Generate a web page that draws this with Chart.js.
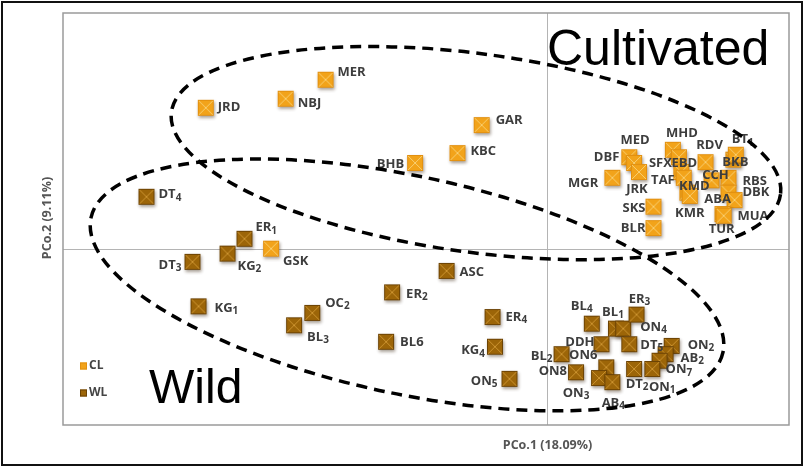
<!DOCTYPE html>
<html>
<head>
<meta charset="utf-8">
<script src="https://cdn.jsdelivr.net/npm/chart.js@4.4.1/dist/chart.umd.min.js"></script>
<style>
  html, body { margin: 0; padding: 0; background: #fff; }
  #wrap { width: 804px; height: 469px; position: relative; }
</style>
</head>
<body>
<div id="wrap"><canvas id="pcoChart" width="804" height="469"></canvas></div>
<script>
/* PCoA scatter: cultivated (CL) vs wild (WL) accessions
   PCo.1 = 18.09 %, PCo.2 = 9.11 %  (axis values) */

// Cultivated accessions
const CL_NAMES = ['JRD', 'NBJ', 'MER', 'GAR', 'KBC', 'BHB', 'GSK', 'MGR', 'DBF', 'MED', 'JRK', 'SKS', 'BLR',
  'MHD', 'SFX', 'EBD', 'TAF', 'KMD', 'KMR', 'RDV', 'CCH', 'BKB', 'BT_1', 'RBS', 'DBK', 'ABA', 'MUA', 'TUR'];
const CL_PCO1 = [-0.282, -0.216, -0.183, -0.054, -0.074, -0.109, -0.228, 0.054, 0.068, 0.072, 0.076, 0.088, 0.088,
  0.104, 0.109, 0.111, 0.113, 0.116, 0.118, 0.131, 0.136, 0.154, 0.156, 0.150, 0.150, 0.155, 0.145, 0.146];
const CL_PCO2 = [0.171, 0.182, 0.205, 0.150, 0.116, 0.104, 0.000, 0.086, 0.111, 0.104, 0.093, 0.051, 0.025,
  0.120, 0.111, 0.093, 0.086, 0.068, 0.064, 0.105, 0.083, 0.108, 0.114, 0.086, 0.068, 0.059, 0.042, 0.040];

// Wild accessions
const WL_NAMES = ['DT_4', 'ER_1', 'KG_2', 'DT_3', 'KG_1', 'OC_2', 'BL_3', 'ER_2', 'BL6', 'ASC', 'ER_4', 'KG_4', 'ON_5',
  'BL_4', 'BL_1', 'ON_4', 'ER_3', 'DDH', 'DT_5', 'ON_2', 'AB_2', 'ON_7', 'ON_1', 'DT_2', 'BL_2', 'ON6', 'ON8', 'ON_3', 'AB_4'];
const WL_PCO1 = [-0.331, -0.250, -0.264, -0.293, -0.288, -0.194, -0.209, -0.128, -0.133, -0.083, -0.045, -0.043, -0.031,
  0.037, 0.057, 0.063, 0.074, 0.045, 0.068, 0.103, 0.098, 0.093, 0.087, 0.072, 0.012, 0.049, 0.024, 0.043, 0.054];
const WL_PCO2 = [0.063, 0.012, -0.006, -0.016, -0.070, -0.078, -0.093, -0.053, -0.113, -0.027, -0.083, -0.119, -0.158,
  -0.091, -0.097, -0.097, -0.080, -0.116, -0.116, -0.118, -0.128, -0.136, -0.146, -0.146, -0.128, -0.144, -0.150, -0.157, -0.162];

const AXIS_X_TITLE = 'PCo.1 (18.09%)';
const AXIS_Y_TITLE = 'PCo.2 (9.11%)';
const GROUP_TITLES = ['Cultivated', 'Wild'];

// label placement: [dx, dy, align] in px from the marker centre
const LABEL_POS = {
  JRD: [12, 0, 'left'], NBJ: [12, 5, 'left'], MER: [12, -7, 'left'], GAR: [14, -5, 'left'], KBC: [13, -2, 'left'],
  BHB: [-11, 1, 'right'], GSK: [12, 13, 'left'], MGR: [-14, 5, 'right'], DBF: [-10, 0, 'right'], MED: [1, -23, 'center'],
  JRK: [-2, 17, 'center'], SKS: [-8, 2, 'right'], BLR: [-8, 0, 'right'], MHD: [9, -16, 'center'], SFX: [-7, 6, 'right'],
  EBD: [3, -9, 'center'], TAF: [-9, 2, 'right'], KMD: [7, -6, 'center'], KMR: [0, 17, 'center'], RDV: [4, -17, 'center'],
  CCH: [4, -5, 'center'], BKB: [2, 3, 'center'], BT_1: [7, -15, 'center'], RBS: [14, 3, 'left'], DBK: [14, 0, 'left'],
  ABA: [-17, -1, 'center'], MUA: [15, 2, 'left'], TUR: [-2, 14, 'center'],
  DT_4: [12, -2, 'left'], ER_1: [11, -11, 'left'], KG_2: [10, 13, 'left'], DT_3: [-11, 3, 'right'], KG_1: [16, 2, 'left'],
  OC_2: [13, -10, 'left'], BL_3: [13, 12, 'left'], ER_2: [14, 2, 'left'], BL6: [14, 1, 'left'], ASC: [13, 1, 'left'],
  ER_4: [13, 0, 'left'], KG_4: [-10, 4, 'right'], ON_5: [-12, 2, 'right'], BL_4: [-10, -17, 'center'], BL_1: [-3, -16, 'center'],
  ON_4: [17, -1, 'left'], ER_3: [3, -15, 'center'], DDH: [-7, -2, 'right'], DT_5: [11, 1, 'left'], ON_2: [16, -1, 'left'],
  AB_2: [15, 4, 'left'], ON_7: [6, 9, 'left'], ON_1: [10, 18, 'center'], DT_2: [3, 15, 'center'], BL_2: [-9, 2, 'right'],
  ON6: [-23, -12, 'center'], ON8: [-9, -1, 'right'], ON_3: [-23, 15, 'center'], AB_4: [1, 21, 'center']
};

// group ellipses: centre in data units, radii in PCo.1 units, rotation in degrees
const ELLIPSES = [
  { cx: -0.0587, cy: 0.116, rx: 0.254, ry: 0.082, rot: 7.7 },
  { cx: -0.1157, cy: -0.044, rx: 0.267, ry: 0.090, rot: 12 }
];

const COLORS = {
  CL: { fill: '#F2A31A', edge: '#E29010', cross: '#F9CF70' },
  WL: { fill: '#9C6508', edge: '#6C4304', cross: '#CD9430' }
};

function makeMarker(c) {
  const cv = document.createElement('canvas');
  cv.width = 26; cv.height = 26;
  const g = cv.getContext('2d');
  g.shadowColor = 'rgba(60,40,20,0.45)';
  g.shadowBlur = 3;
  g.shadowOffsetX = 1;
  g.shadowOffsetY = 2;
  g.fillStyle = c.fill;
  g.fillRect(5, 5, 16, 16);
  g.shadowColor = 'transparent';
  g.strokeStyle = c.cross;
  g.lineWidth = 1;
  g.beginPath();
  g.moveTo(6, 6); g.lineTo(20, 20);
  g.moveTo(20, 6); g.lineTo(6, 20);
  g.stroke();
  g.strokeStyle = c.edge;
  g.strokeRect(5.5, 5.5, 15, 15);
  return cv;
}

const toPoints = (xs, ys) => xs.map((x, i) => ({ x, y: ys[i] }));

const LABEL_FONT = "bold 13px 'Open Sans', sans-serif";
const SUB_FONT = "bold 10px 'Open Sans', sans-serif";

function drawLabel(ctx, text, x, y, align) {
  const [main, sub] = text.split('_');
  ctx.font = LABEL_FONT;
  const wm = ctx.measureText(main).width;
  let ws = 0;
  if (sub) { ctx.font = SUB_FONT; ws = ctx.measureText(sub).width; }
  const w = wm + ws;
  let x0 = x;
  if (align === 'right') x0 = x - w;
  else if (align === 'center') x0 = x - w / 2;
  ctx.textAlign = 'left';
  ctx.textBaseline = 'middle';
  ctx.font = LABEL_FONT;
  ctx.fillText(main, x0, y);
  if (sub) {
    ctx.font = SUB_FONT;
    ctx.fillText(sub, x0 + wm, y + 3);
  }
}

const decorPlugin = {
  id: 'decor',
  beforeDatasetsDraw(chart) {
    const { ctx, chartArea: a, scales } = chart;
    ctx.save();
    // outer frame
    ctx.strokeStyle = '#111';
    ctx.lineWidth = 2;
    ctx.strokeRect(2, 2, 800, 463);
    // zero lines
    const x0 = Math.round(scales.x.getPixelForValue(0)) + 0.5;
    const y0 = Math.round(scales.y.getPixelForValue(0)) + 0.5;
    ctx.strokeStyle = '#b4b4b4';
    ctx.lineWidth = 1;
    ctx.beginPath();
    ctx.moveTo(x0, a.top); ctx.lineTo(x0, a.bottom);
    ctx.moveTo(a.left, y0); ctx.lineTo(a.right, y0);
    ctx.stroke();
    // plot border
    ctx.strokeStyle = '#9a9a9a';
    ctx.lineWidth = 1.5;
    ctx.strokeRect(a.left, a.top, a.right - a.left, a.bottom - a.top);
    // axis titles
    ctx.fillStyle = '#555';
    ctx.font = "bold 12.5px 'Open Sans', sans-serif";
    ctx.textAlign = 'center';
    ctx.textBaseline = 'middle';
    ctx.fillText(AXIS_X_TITLE, x0, 445);
    ctx.save();
    ctx.translate(47, 218);
    ctx.rotate(-Math.PI / 2);
    ctx.fillText(AXIS_Y_TITLE, 0, 0);
    ctx.restore();
    // group titles
    ctx.fillStyle = '#000';
    ctx.font = "50px 'Liberation Sans', Arial, sans-serif";
    ctx.textAlign = 'left';
    ctx.textBaseline = 'alphabetic';
    ctx.fillText(GROUP_TITLES[0], 547, 65);
    ctx.font = "48px 'Liberation Sans', Arial, sans-serif";
    ctx.fillText(GROUP_TITLES[1], 149, 403);
    // legend
    const items = [['CL', 366], ['WL', 393]];
    ctx.font = "bold 12px 'Open Sans', sans-serif";
    ctx.textBaseline = 'middle';
    items.forEach(([k, y]) => {
      const c = COLORS[k];
      ctx.fillStyle = c.fill;
      ctx.fillRect(80, y - 3.5, 7, 7);
      ctx.strokeStyle = c.edge;
      ctx.lineWidth = 1;
      ctx.strokeRect(80.5, y - 3, 6, 6);
      ctx.fillStyle = '#444';
      ctx.fillText(k, 89, y);
    });
    ctx.restore();
  },
  afterDatasetsDraw(chart) {
    const { ctx, scales } = chart;
    ctx.save();
    ctx.fillStyle = '#3d3d3d';
    chart.data.datasets.forEach((ds) => {
      ds.data.forEach((p, i) => {
        const name = ds.names[i];
        const [dx, dy, align] = LABEL_POS[name] || [12, 0, 'left'];
        const px = scales.x.getPixelForValue(p.x);
        const py = scales.y.getPixelForValue(p.y);
        drawLabel(ctx, name, px + dx, py + dy, align);
      });
    });
    // dashed group ellipses
    const pxPerUnit = scales.x.getPixelForValue(1) - scales.x.getPixelForValue(0);
    ctx.strokeStyle = '#000';
    ctx.lineWidth = 3.5;
    ctx.setLineDash([11, 7]);
    ELLIPSES.forEach((e) => {
      ctx.beginPath();
      ctx.ellipse(scales.x.getPixelForValue(e.cx), scales.y.getPixelForValue(e.cy),
        e.rx * pxPerUnit, e.ry * pxPerUnit, e.rot * Math.PI / 180, 0, Math.PI * 2);
      ctx.stroke();
    });
    ctx.restore();
  }
};

new Chart(document.getElementById('pcoChart'), {
  type: 'scatter',
  data: {
    datasets: [
      {
        label: 'WL',
        names: WL_NAMES,
        data: toPoints(WL_PCO1, WL_PCO2),
        pointStyle: makeMarker(COLORS.WL),
        pointRadius: 8
      },
      {
        label: 'CL',
        names: CL_NAMES,
        data: toPoints(CL_PCO1, CL_PCO2),
        pointStyle: makeMarker(COLORS.CL),
        pointRadius: 8
      }
    ]
  },
  options: {
    responsive: false,
    animation: false,
    devicePixelRatio: 1,
    events: [],
    layout: { padding: { left: 63, top: 13, right: 15, bottom: 44 } },
    scales: {
      x: { type: 'linear', min: -0.4, max: 0.2, display: false },
      y: { type: 'linear', min: -0.214, max: 0.286, display: false }
    },
    plugins: { legend: { display: false }, tooltip: { enabled: false } }
  },
  plugins: [decorPlugin]
});
</script>
</body>
</html>
